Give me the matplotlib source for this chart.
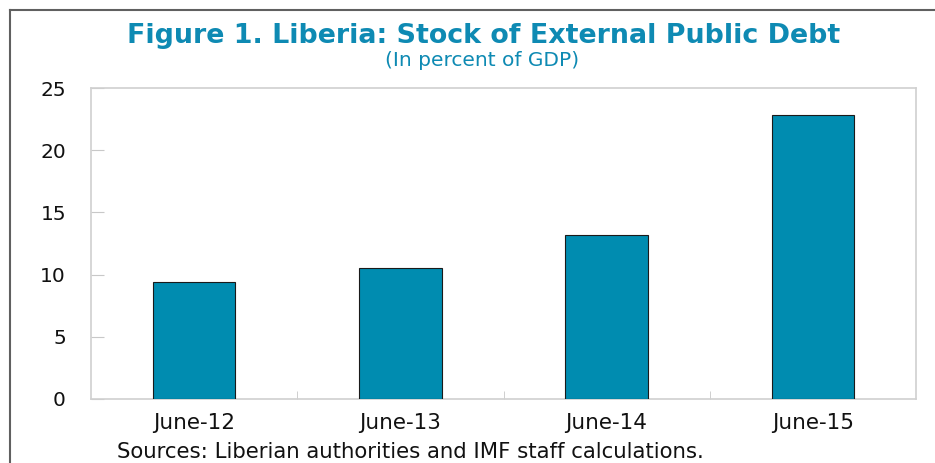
import matplotlib
matplotlib.use("Agg")
import matplotlib.pyplot as plt
from matplotlib.lines import Line2D

categories = ["June-12", "June-13", "June-14", "June-15"]
debt_pct_gdp = [9.4, 10.5, 13.2, 22.8]
y_ticks = [0, 5, 10, 15, 20, 25]

plt.rcParams['font.family'] = ['DejaVu Sans']

fig = plt.figure(figsize=(9.35, 4.63), dpi=100)
ax = fig.add_axes([91/935, 1-399/463, (916-91)/935, (399-88)/463])

x = list(range(len(categories)))
ax.bar(x, debt_pct_gdp, width=0.40, color='#008CB0', edgecolor='#1a1a1a', linewidth=0.8, zorder=3)

ax.set_xlim(-0.5, len(categories) - 0.5)
ax.set_ylim(0, 25)
ax.set_yticks(y_ticks)
ax.set_xticks(x)
ax.set_xticklabels(categories)
ax.set_xticks([i + 0.5 for i in x[:-1]], minor=True)

for s in ax.spines.values():
    s.set_color('#d0d0d0')
    s.set_linewidth(1.2)

ax.tick_params(axis='y', direction='in', length=9, color='#c8c8c8', labelsize=14.5, pad=18, labelcolor='#111111')
ax.tick_params(axis='x', which='major', length=0, labelsize=15.5, pad=10, labelcolor='#111111')
ax.tick_params(axis='x', which='minor', direction='in', length=6, color='#c8c8c8')

fig.text(0.517, 1-36/463, "Figure 1. Liberia: Stock of External Public Debt", ha='center', va='center',
         fontsize=19.4, fontweight='bold', color='#0E8AB3')
fig.text(0.516, 1-61/463, "(In percent of GDP)", ha='center', va='center', fontsize=14.5, color='#0E8AB3')
fig.text(117/935, 1-452/463, "Sources: Liberian authorities and IMF staff calculations.", ha='left', va='center',
         fontsize=15.3, color='#111111')

fig.add_artist(Line2D([10/935, 1.0], [1-10/463, 1-10/463], transform=fig.transFigure, color='#606060', lw=1.5))
fig.add_artist(Line2D([10/935, 10/935], [0, 1-10/463], transform=fig.transFigure, color='#606060', lw=1.5))

fig.savefig("out.png", dpi=100)
